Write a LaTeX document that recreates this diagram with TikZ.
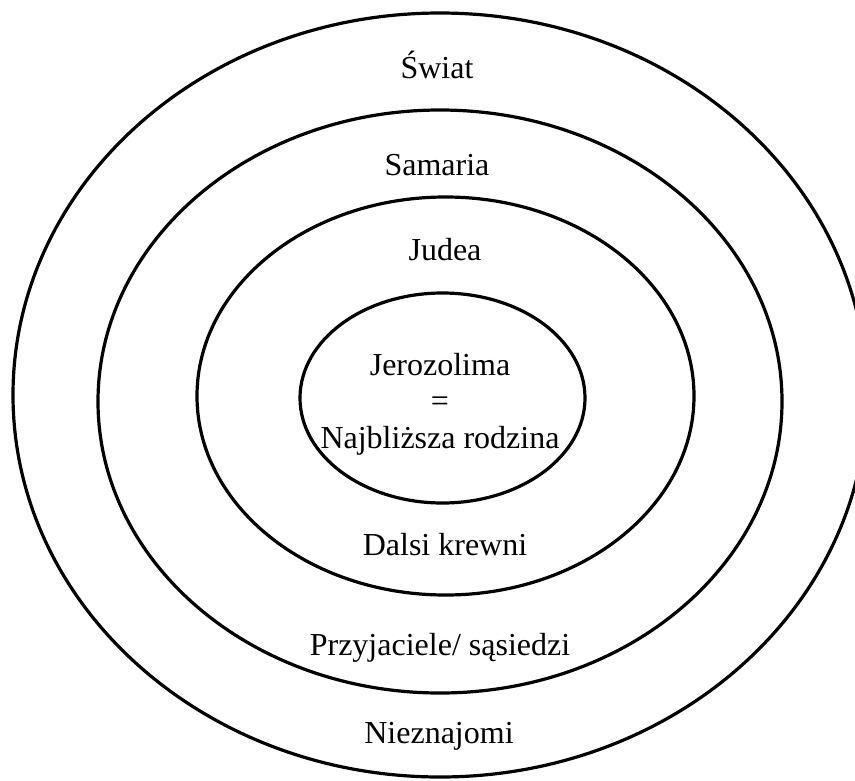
\documentclass[tikz,border=0pt]{standalone}
\usepackage{fontspec}
\setmainfont{Liberation Serif}
\usetikzlibrary{shapes.geometric}

\begin{document}
\begin{tikzpicture}[
  x=1pt, y=-1pt,
  ring/.style={draw,ellipse,line width=3.2pt,inner sep=0pt},
  lbl/.style={font=\fontsize{32}{36.5}\selectfont,inner sep=0pt,anchor=base}
]
\clip (0,0) rectangle (855,780);

% rings, outside in
\node[ring,minimum width=854pt,minimum height=764pt] (swiat) at (440,395) {};
\node[ring,minimum width=684pt,minimum height=583pt] (samaria) at (440,401.5) {};
\node[ring,minimum width=497pt,minimum height=398pt] (judea) at (445.5,396) {};
\node[ring,minimum width=285pt,minimum height=210pt] (jerozolima) at (442.5,398) {};

% labels
\node[lbl] (tswiat) at (437,78) {Świat};
\node[lbl] (tsamaria) at (437,175) {Samaria};
\node[lbl] (tjudea) at (445,260) {Judea};
\node[font=\fontsize{32}{36.5}\selectfont,align=center,inner sep=0pt] (tjerozolima) at (440,404) {Jerozolima\\=\\Najbliższa rodzina};
\node[lbl] (tdalsi) at (445,555) {Dalsi krewni};
\node[lbl] (tprzyj) at (440,655) {Przyjaciele/ sąsiedzi};
\node[lbl] (tniezn) at (439,743) {Nieznajomi};

\end{tikzpicture}
\end{document}
